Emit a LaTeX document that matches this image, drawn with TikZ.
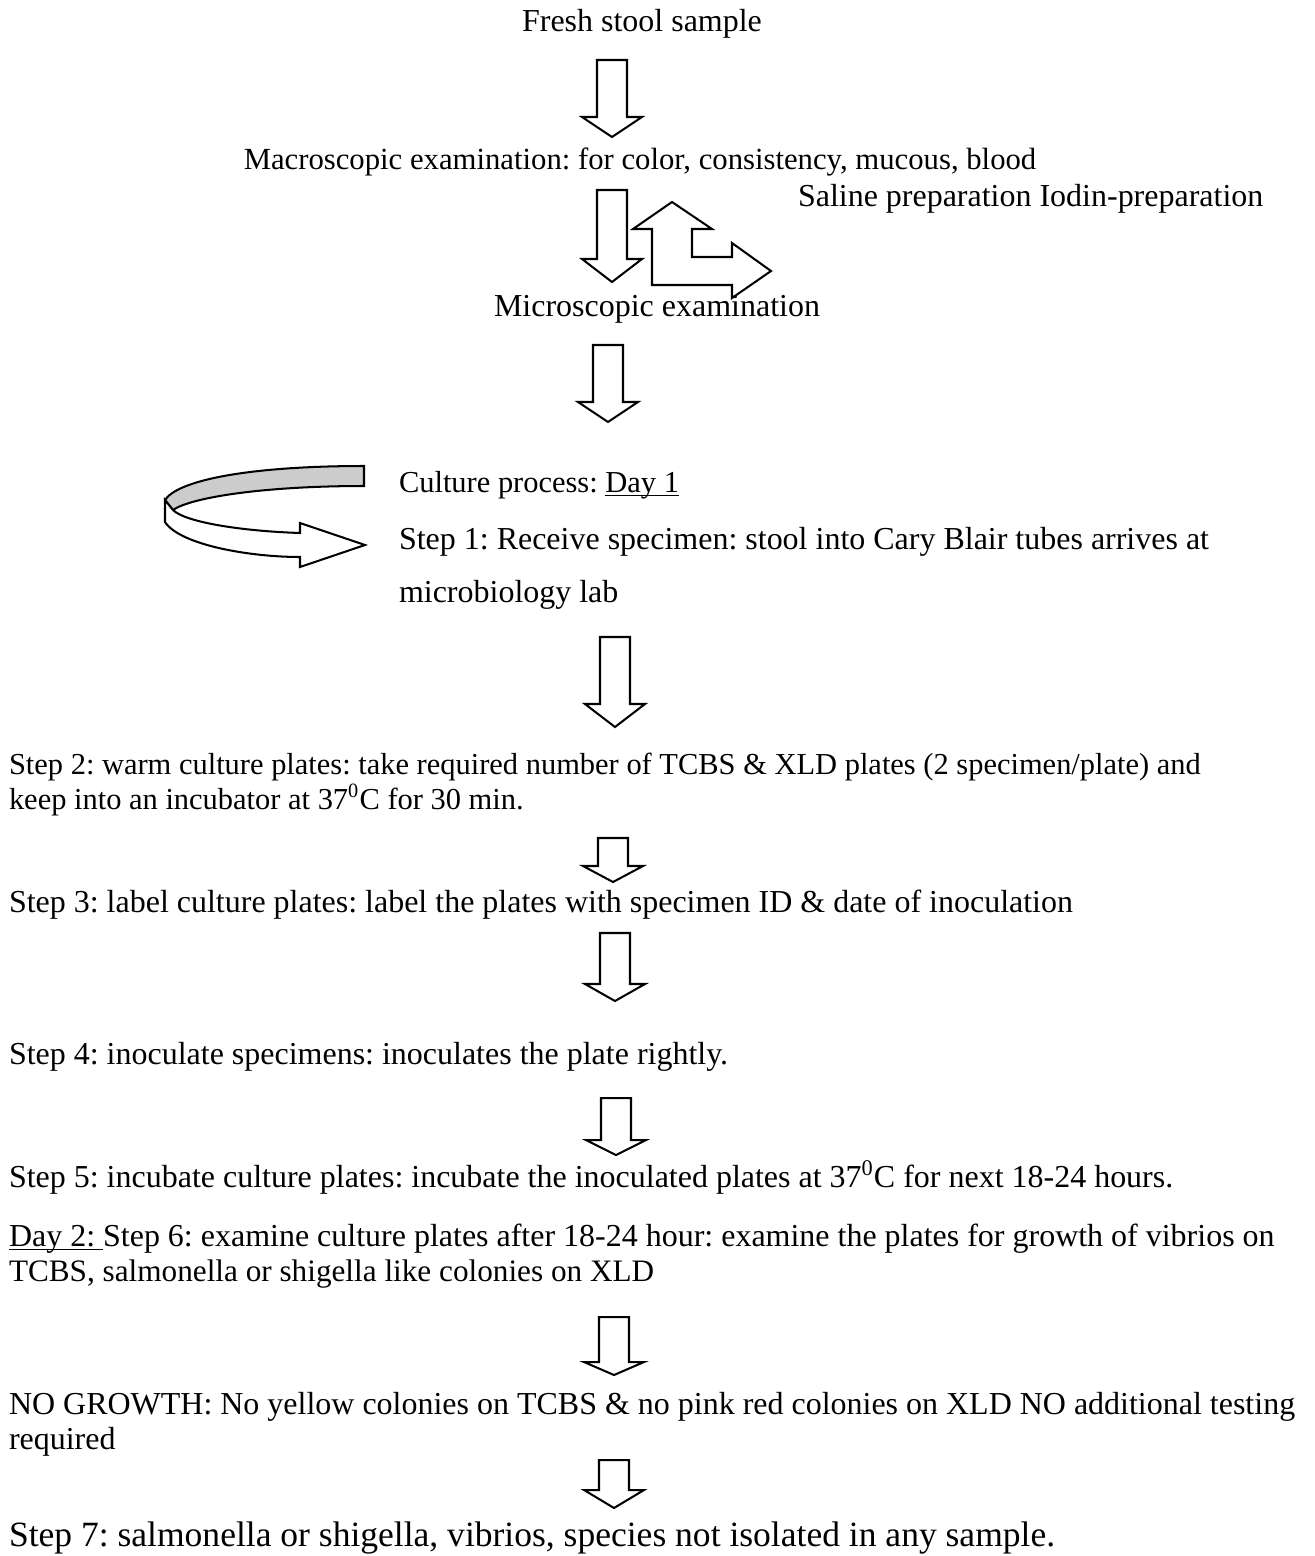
\documentclass[tikz,border=0pt]{standalone}
\usepackage{fontspec}
\setmainfont{Liberation Serif}
\frenchspacing
\begin{document}
\begin{tikzpicture}[x=0.394pt,y=-0.394pt,line width=0.8pt,
  txt/.style={anchor=base west,inner sep=0pt,font=\fontsize{12.6}{14}\selectfont},
  small/.style={font=\fontsize{12}{14}\selectfont}]
\useasboundingbox (0,0) rectangle (1315,1556);
\node[txt,anchor=base] (fresh) at (642,31) {Fresh stool sample};
\node[txt,anchor=base,font=\fontsize{12.1}{14}\selectfont] (macro) at (640,169) {Macroscopic examination: for color, consistency, mucous, blood};
\node[txt] (saline) at (797,206) {Saline preparation Iodin-preparation};
\node[txt,anchor=base] (micro) at (657,316) {Microscopic examination};
\node[txt,small] (culture) at (398,492) {Culture process: \underline{\smash{Day 1}}};
\node[txt] (step1) at (398,549) {Step 1: Receive specimen: stool into Cary Blair tubes arrives at};
\node[txt] (step1b) at (398,602) {microbiology lab};
\node[txt,small] (step2) at (8,774) {Step 2: warm culture plates: take required number of TCBS \& XLD plates (2 specimen/plate) and};
\node[txt,small] (step2b) at (8,809) {keep into an incubator at 37\textsuperscript{0}C for 30 min.};
\node[txt] (step3) at (8,912) {Step 3: label culture plates: label the plates with specimen ID \& date of inoculation};
\node[txt] (step4) at (8,1064) {Step 4: inoculate specimens: inoculates the plate rightly.};
\node[txt] (step5) at (8,1187) {Step 5: incubate culture plates: incubate the inoculated plates at 37\textsuperscript{0}C for next 18-24 hours.};
\node[txt] (step6) at (8,1246) {\underline{\smash{Day 2:\ }}Step 6: examine culture plates after 18-24 hour: examine the plates for growth of vibrios on};
\node[txt,font=\fontsize{12.3}{14}\selectfont] (step6b) at (8,1281) {TCBS, salmonella or shigella like colonies on XLD};
\node[txt] (nogrowth) at (8,1414) {NO GROWTH: No yellow colonies on TCBS \& no pink red colonies on XLD NO additional testing};
\node[txt] (nogrowthb) at (8,1449) {required};
\node[txt,font=\fontsize{14}{16}\selectfont] (step7) at (8,1546) {Step 7: salmonella or shigella, vibrios, species not isolated in any sample.};
\foreach \x/\t/\b/\p in {612/60/117/137,612/190/259/282,608/345/402/422,615/637/704/727,613/838/866/882,
  615/933/984/1001,616/1098/1140/1155,614/1317/1362/1375,614/1460/1490/1508}
  \draw[fill=white] (\x-15,\t) -- (\x+15,\t) -- (\x+15,\b) -- (\x+30,\b) -- (\x,\p) -- (\x-30,\b) -- (\x-15,\b) -- cycle;
\draw[fill=white] (672,202) -- (712,229) -- (692,229) -- (692,257) -- (732,257) -- (732,243) -- (771,271)
  -- (732,298) -- (732,285) -- (652,285) -- (652,229) -- (633,229) -- cycle;
\draw[fill=gray!40] (364,466) .. controls (250,466) and (178,480) .. (165,500) -- (173,510)
  .. controls (190,498) and (260,486) .. (364,486) -- cycle;
\draw[fill=white] (165,500) -- (165,522) .. controls (180,545) and (250,557) .. (300,557) -- (300,567)
  -- (365,545) -- (300,523) -- (300,533) .. controls (240,531) and (185,522) .. (173,510) -- cycle;
\end{tikzpicture}
\end{document}
